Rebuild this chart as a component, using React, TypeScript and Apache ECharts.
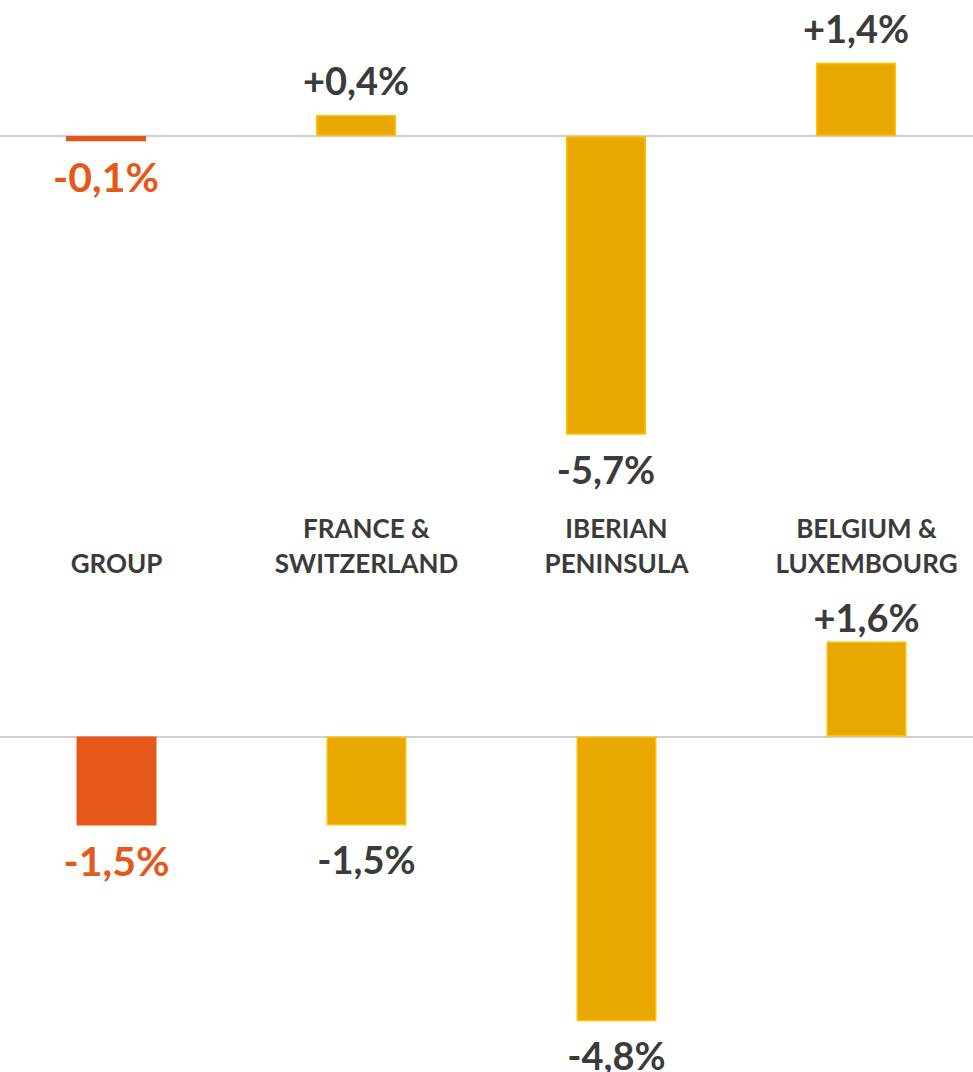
import React, { useEffect, useRef } from "react";
import * as echarts from "echarts";

const categories = ["GROUP", "FRANCE &\nSWITZERLAND", "IBERIAN\nPENINSULA", "BELGIUM &\nLUXEMBOURG"];
const topValues = [-0.1, 0.4, -5.7, 1.4];
const bottomValues = [-1.5, -1.5, -4.8, 1.6];

const ORANGE = "#E5581A";
const GOLD = "#E8A800";
const GOLD_BORDER = "#FFC000";
const DARK = "#3B3B3B";
const FONT = "Lato, 'Noto Sans', sans-serif";

const fmt = (v: number) => (v > 0 ? "+" : "") + v.toFixed(1).replace(".", ",") + "%";

function buildData(values: number[], posDistance: number) {
  return values.map((v, i) => {
    const isGroup = i === 0;
    return {
      value: v,
      itemStyle: isGroup
        ? { color: ORANGE }
        : { color: GOLD, borderColor: GOLD_BORDER, borderWidth: 1.5 },
      label: {
        show: true,
        position: v >= 0 ? "top" : "bottom",
        distance: v >= 0 ? posDistance : 15,
        formatter: (p: any) => fmt(p.value),
        color: isGroup ? ORANGE : DARK,
        fontSize: isGroup ? 41 : 38,
        fontWeight: "bold",
        fontFamily: FONT,
      },
    };
  });
}

export default function App() {
  const ref = useRef<HTMLDivElement>(null);
  useEffect(() => {
    if (!ref.current) return;
    const chart = echarts.init(ref.current, null, { renderer: "svg" });
    const topScale = 52.4;
    const botScale = 59.3;
    chart.setOption({
      animation: false,
      backgroundColor: "#ffffff",
      grid: [
        {
          left: -19,
          width: 1000,
          top: 136 - 2 * topScale,
          height: 8 * topScale,
          containLabel: false,
          outerBoundsMode: "none",
        },
        {
          left: -8.5,
          width: 1000,
          top: 736.5 - 2 * botScale,
          height: 7 * botScale,
          containLabel: false,
          outerBoundsMode: "none",
        },
      ],
      xAxis: [
        {
          type: "category",
          gridIndex: 0,
          data: categories,
          axisTick: { show: false },
          axisLabel: { show: false },
          axisLine: { lineStyle: { color: "#BFBFBF", width: 1.5 } },
        },
        {
          type: "category",
          gridIndex: 1,
          position: "top",
          data: categories,
          axisTick: { show: false },
          axisLine: { lineStyle: { color: "#BFBFBF", width: 1.5 } },
          axisLabel: {
            interval: 0,
            margin: 37,
            color: DARK,
            fontSize: 26,
            fontWeight: "bold",
            fontFamily: FONT,
            lineHeight: 35,
          },
        },
      ],
      yAxis: [
        { type: "value", gridIndex: 0, min: -6, max: 2, show: false, splitLine: { show: false } },
        { type: "value", gridIndex: 1, min: -5, max: 2, show: false, splitLine: { show: false } },
      ],
      series: [
        {
          type: "bar",
          xAxisIndex: 0,
          yAxisIndex: 0,
          barWidth: 80,
          data: buildData(topValues, 16),
        },
        {
          type: "bar",
          xAxisIndex: 1,
          yAxisIndex: 1,
          barWidth: 80,
          data: buildData(bottomValues, 6),
        },
      ],
    });
    return () => chart.dispose();
  }, []);
  return (
    <div
      ref={ref}
      style={{ position: "fixed", left: 0, top: 0, width: 973, height: 1072, background: "#fff" }}
    />
  );
}
